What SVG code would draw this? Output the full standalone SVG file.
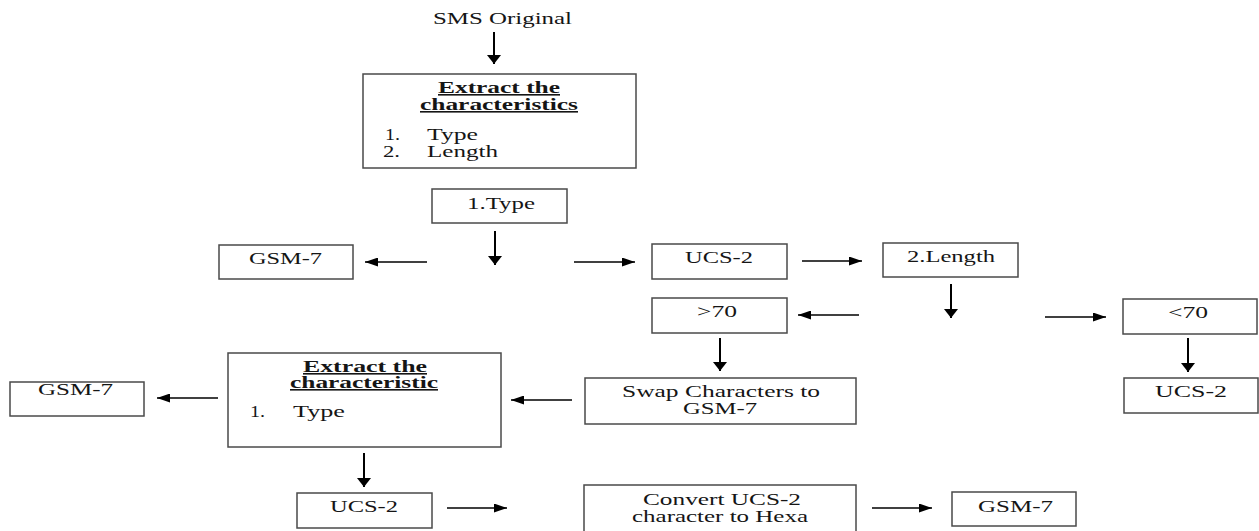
<svg xmlns="http://www.w3.org/2000/svg" width="1259" height="531" viewBox="0 0 1259 531">
<defs>
<style>
.box{fill:#fff;stroke:#4a4a4a;stroke-width:1.5}
.t{font-family:"Liberation Serif","Times New Roman",serif;font-size:16px;fill:#151515}
.b{font-weight:bold;text-decoration:underline}
.v{stroke:#000;stroke-width:2;fill:none;marker-end:url(#hv)}
.h{stroke:#000;stroke-width:1.5;fill:none;marker-end:url(#hh)}
</style>
<marker id="hv" markerUnits="userSpaceOnUse" markerWidth="10" markerHeight="14" refX="9" refY="7" orient="auto" viewBox="0 0 10 14"><path d="M0,0 L9,7 L0,14 Z" fill="#000"/></marker>
<marker id="hh" markerUnits="userSpaceOnUse" markerWidth="13" markerHeight="9" refX="13" refY="4.5" orient="auto" viewBox="0 0 13 9"><path d="M0,0 L13,4.5 L0,9 Z" fill="#000"/></marker>
</defs>
<rect width="1259" height="531" fill="#fff"/>

<g id="connectors">
<line class="v" x1="494" y1="32" x2="494" y2="64"/>
<line class="v" x1="495" y1="231" x2="495" y2="265"/>
<line class="v" x1="951" y1="284" x2="951" y2="318"/>
<line class="v" x1="720" y1="338" x2="720" y2="371"/>
<line class="v" x1="1188" y1="338" x2="1188" y2="372"/>
<line class="v" x1="364" y1="453" x2="364" y2="487"/>
<line class="h" x1="427" y1="262" x2="365" y2="262"/>
<line class="h" x1="574" y1="262" x2="635" y2="262"/>
<line class="h" x1="802" y1="261" x2="862" y2="261"/>
<line class="h" x1="859" y1="315" x2="798" y2="315"/>
<line class="h" x1="1045" y1="317" x2="1106" y2="317"/>
<line class="h" x1="218" y1="398" x2="157" y2="398"/>
<line class="h" x1="572" y1="400" x2="511" y2="400"/>
<line class="h" x1="447" y1="508" x2="507" y2="508"/>
<line class="h" x1="872" y1="508" x2="932" y2="508"/>
</g>

<g id="sms-original">
<text class="t" x="433" y="24" textLength="139" lengthAdjust="spacingAndGlyphs">SMS Original</text>
</g>

<g id="extract-characteristics">
<rect class="box" x="363" y="74" width="273" height="94"/>
<text class="t b" x="438" y="93" textLength="122" lengthAdjust="spacingAndGlyphs">Extract the</text>
<text class="t b" x="420" y="110" textLength="158" lengthAdjust="spacingAndGlyphs">characteristics</text>
<text class="t" x="385" y="140" textLength="15" lengthAdjust="spacingAndGlyphs">1.</text>
<text class="t" x="427" y="140" textLength="51" lengthAdjust="spacingAndGlyphs">Type</text>
<text class="t" x="383" y="157" textLength="17" lengthAdjust="spacingAndGlyphs">2.</text>
<text class="t" x="427" y="157" textLength="71" lengthAdjust="spacingAndGlyphs">Length</text>
</g>

<g id="type-1">
<rect class="box" x="432" y="189" width="135" height="34"/>
<text class="t" x="467" y="209" textLength="68" lengthAdjust="spacingAndGlyphs">1.Type</text>
</g>

<g id="gsm7-a">
<rect class="box" x="219" y="245" width="134" height="34"/>
<text class="t" x="249" y="264" textLength="73" lengthAdjust="spacingAndGlyphs">GSM-7</text>
</g>

<g id="ucs2-a">
<rect class="box" x="652" y="244" width="135" height="35"/>
<text class="t" x="685" y="263" textLength="68" lengthAdjust="spacingAndGlyphs">UCS-2</text>
</g>

<g id="length-2">
<rect class="box" x="883" y="243" width="135" height="34"/>
<text class="t" x="907" y="262" textLength="88" lengthAdjust="spacingAndGlyphs">2.Length</text>
</g>

<g id="gt70">
<rect class="box" x="652" y="298" width="135" height="35"/>
<text class="t" x="697" y="317" textLength="40" lengthAdjust="spacingAndGlyphs">&gt;70</text>
</g>

<g id="lt70">
<rect class="box" x="1123" y="299" width="134" height="35"/>
<text class="t" x="1168" y="318" textLength="40" lengthAdjust="spacingAndGlyphs">&lt;70</text>
</g>

<g id="ucs2-b">
<rect class="box" x="1124" y="378" width="134" height="35"/>
<text class="t" x="1155" y="397" textLength="72" lengthAdjust="spacingAndGlyphs">UCS-2</text>
</g>

<g id="swap">
<rect class="box" x="585" y="378" width="271" height="46"/>
<text class="t" x="622" y="397" textLength="198" lengthAdjust="spacingAndGlyphs">Swap Characters to</text>
<text class="t" x="683" y="414" textLength="74" lengthAdjust="spacingAndGlyphs">GSM-7</text>
</g>

<g id="extract-characteristic">
<rect class="box" x="228" y="353" width="273" height="94"/>
<text class="t b" x="303" y="372" textLength="124" lengthAdjust="spacingAndGlyphs">Extract the</text>
<text class="t b" x="290" y="388" textLength="148" lengthAdjust="spacingAndGlyphs">characteristic</text>
<text class="t" x="250" y="417" textLength="15" lengthAdjust="spacingAndGlyphs">1.</text>
<text class="t" x="293" y="417" textLength="52" lengthAdjust="spacingAndGlyphs">Type</text>
</g>

<g id="gsm7-b">
<rect class="box" x="10" y="382" width="134" height="34"/>
<text class="t" x="38" y="395" textLength="75" lengthAdjust="spacingAndGlyphs">GSM-7</text>
</g>

<g id="ucs2-c">
<rect class="box" x="297" y="493" width="135" height="35"/>
<text class="t" x="330" y="512" textLength="68" lengthAdjust="spacingAndGlyphs">UCS-2</text>
</g>

<g id="convert">
<rect class="box" x="584" y="485" width="272" height="60"/>
<text class="t" x="643" y="505" textLength="158" lengthAdjust="spacingAndGlyphs">Convert UCS-2</text>
<text class="t" x="632" y="522" textLength="176" lengthAdjust="spacingAndGlyphs">character to Hexa</text>
</g>

<g id="gsm7-c">
<rect class="box" x="952" y="492" width="124" height="34"/>
<text class="t" x="978" y="512" textLength="75" lengthAdjust="spacingAndGlyphs">GSM-7</text>
</g>
</svg>
